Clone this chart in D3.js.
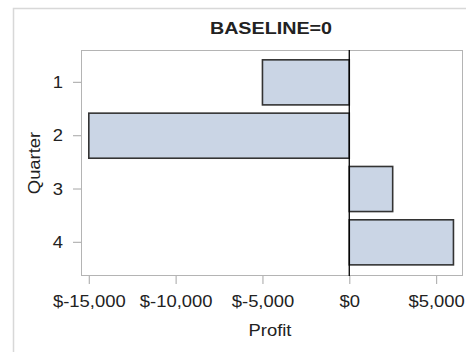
<!DOCTYPE html>
<html>
<head>
<meta charset="utf-8">
<script src="https://cdn.jsdelivr.net/npm/d3@7"></script>
<style>
  html, body { margin: 0; padding: 0; background: #ffffff; }
  svg { display: block; }
  text { font-family: "Liberation Sans", Arial, sans-serif; fill: #222; }
</style>
</head>
<body>
<svg id="chart" width="466" height="352"></svg>
<script>
// ---- data ----
const quarters = ["1", "2", "3", "4"];
const profit = [-5000, -15000, 2500, 6000];
const xTicks = [-15000, -10000, -5000, 0, 5000];
const titleText = "BASELINE=0";
const xLabel = "Profit";
const yLabel = "Quarter";

const svg = d3.select("#chart");
const plot = { left: 81, right: 463, top: 50, bottom: 276 };
const STRETCH = 1.15;
const FS = 16;

function stretch(sel, k) {
  sel.each(function () {
    const n = this.getComputedTextLength();
    d3.select(this).attr("textLength", n * k).attr("lengthAdjust", "spacingAndGlyphs");
  });
}

// outer frame
svg.append("rect").attr("x", 13.5).attr("y", 8.5).attr("width", 600).attr("height", 600)
  .attr("fill", "#ffffff").attr("stroke", "#d8d8d8").attr("stroke-width", 1.5);

const x = d3.scaleLinear().domain([-15450, 6550]).range([plot.left, plot.right]);
const y = d3.scaleBand().domain(quarters).range([55.7, 269]).paddingInner(0.155).paddingOuter(0.0775);

// plot frame
svg.append("rect").attr("x", plot.left + 0.5).attr("y", plot.top + 0.5)
  .attr("width", plot.right - plot.left - 1).attr("height", plot.bottom - plot.top - 1)
  .attr("fill", "#ffffff").attr("stroke", "#b4b4b4").attr("stroke-width", 1);

// bars
svg.append("g").selectAll("rect").data(quarters).join("rect")
  .attr("x", (d, i) => x(Math.min(0, profit[i])))
  .attr("y", d => y(d))
  .attr("width", (d, i) => Math.abs(x(profit[i]) - x(0)))
  .attr("height", y.bandwidth())
  .attr("fill", "#cad5e5")
  .attr("stroke", "#333333")
  .attr("stroke-width", 1.6);

// baseline at 0
svg.append("line").attr("x1", x(0)).attr("x2", x(0))
  .attr("y1", plot.top).attr("y2", plot.bottom)
  .attr("stroke", "#000").attr("stroke-width", 1.3);

// x axis
const fmt = d3.format(",");
const xAxis = d3.axisBottom(x).tickValues(xTicks).tickSize(8)
  .tickFormat(v => "$" + fmt(v).replace("\u2212", "-"));
const gx = svg.append("g").attr("transform", `translate(0,${plot.bottom})`).call(xAxis);
gx.select(".domain").remove();
gx.selectAll(".tick line").attr("stroke", "#b4b4b4").attr("stroke-width", 1.2);
gx.selectAll(".tick text").attr("font-size", FS).attr("fill", "#222")
  .attr("font-family", "Liberation Sans, Arial, sans-serif")
  .attr("y", 30.5).attr("dy", null).call(stretch, STRETCH);

// y axis
const yAxis = d3.axisLeft(y).tickSize(8).tickPadding(10);
const gy = svg.append("g").attr("transform", `translate(${plot.left},0)`).call(yAxis);
gy.select(".domain").remove();
gy.selectAll(".tick line").attr("stroke", "#b4b4b4").attr("stroke-width", 1.2);
gy.selectAll(".tick text").attr("font-size", FS).attr("fill", "#222")
  .attr("font-family", "Liberation Sans, Arial, sans-serif")
  .attr("x", -18).attr("dy", "0.36em").call(stretch, STRETCH);

// title
svg.append("text").attr("x", 271).attr("y", 33.5).attr("text-anchor", "middle")
  .attr("font-size", 17).attr("font-weight", "bold").attr("fill", "#000")
  .text(titleText).call(stretch, 1.16);

// x label
svg.append("text").attr("x", 270).attr("y", 336).attr("text-anchor", "middle")
  .attr("font-size", FS).text(xLabel).call(stretch, STRETCH);

// y label
svg.append("text").attr("transform", `translate(39.5,${(plot.top + plot.bottom) / 2}) rotate(-90)`)
  .attr("text-anchor", "middle").attr("font-size", FS).text(yLabel).call(stretch, STRETCH);
</script>
</body>
</html>
